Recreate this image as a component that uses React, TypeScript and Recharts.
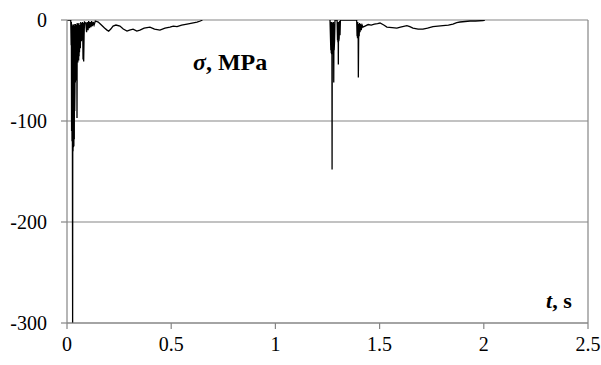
import React from 'react';
import { LineChart, Line, XAxis, YAxis, CartesianGrid, ReferenceLine } from 'recharts';

// First impact (t ≈ 0) – time in s, stress in MPa
const impact1Time = [0, 0.018, 0.02, 0.021, 0.022, 0.023, 0.024, 0.025, 0.026, 0.027, 0.028, 0.029, 0.03, 0.031, 0.032, 0.033, 0.034, 0.035, 0.036, 0.037, 0.038, 0.039, 0.04, 0.041, 0.042, 0.043, 0.044, 0.045, 0.046, 0.047, 0.048, 0.049, 0.05, 0.051, 0.052, 0.053, 0.054, 0.055, 0.056, 0.057, 0.058, 0.059, 0.06, 0.062, 0.064, 0.066, 0.069, 0.071, 0.073, 0.075, 0.077, 0.079, 0.08, 0.082, 0.084, 0.09, 0.094, 0.097, 0.101, 0.104, 0.108, 0.111, 0.115, 0.118, 0.122, 0.126, 0.13, 0.136];
const impact1Stress = [0, 0, -25, -2, -110, -4, -120, -6, -128, -300, -8, -130, -5, -126, -6, -125, -4, -118, -10, -90, -70, -6, -62, -4, -55, -8, -58, -5, -60, -6, -97, -3, -40, -5, -42, -4, -38, -6, -40, -3, -36, -5, -32, -5, -28, -2, -21, -3, -20, -2, -39, -3, -41, -15, -2, -3, -12, -2, -10, -1, -8, -2, -7, -1, -6, -2, -5, -1];

// Decay after first impact
const decay1Time = [0.15, 0.165, 0.18, 0.192, 0.2, 0.21, 0.221, 0.235, 0.254, 0.27, 0.288, 0.3, 0.317, 0.335, 0.35, 0.37, 0.398, 0.42, 0.446, 0.47, 0.494, 0.51, 0.528, 0.55, 0.576, 0.6, 0.624, 0.64, 0.65];
const decay1Stress = [-2, -5, -8, -10, -11, -9, -6, -5, -6, -9, -11, -10, -9, -11, -10, -8, -7, -9, -10, -8, -7, -6, -6.5, -5, -4, -3, -2, -1, 0];

// Second impact (t ≈ 1.27)
const impact2Time = [1.262, 1.266, 1.267, 1.268, 1.269, 1.27, 1.271, 1.272, 1.273, 1.274, 1.275, 1.276, 1.277, 1.278, 1.279, 1.28, 1.281, 1.282, 1.284, 1.286, 1.296, 1.298, 1.299, 1.3, 1.301, 1.302, 1.303, 1.304, 1.306, 1.308, 1.31, 1.312, 1.39, 1.392, 1.393, 1.394, 1.395, 1.396, 1.397, 1.398, 1.4, 1.402, 1.404, 1.406, 1.409, 1.412, 1.416, 1.42];
const impact2Stress = [0, -30, -2, -33, -3, -34, -2, -148, -5, -34, -3, -33, -4, -32, -2, -62, -4, -30, -20, 0, 0, -20, -2, -22, -3, -44, -2, -21, -18, -1, -15, 0, 0, -16, -3, -18, -2, -17, -4, -57, -4, -16, -3, -12, -4, -10, -5, -7];

// Decay after second impact
const decay2Time = [1.43, 1.445, 1.46, 1.475, 1.49, 1.502, 1.52, 1.535, 1.56, 1.583, 1.6, 1.631, 1.645, 1.66, 1.685, 1.708, 1.73, 1.756, 1.78, 1.804, 1.83, 1.852, 1.87, 1.886, 1.91, 1.934, 1.96, 1.996, 2.005];
const decay2Stress = [-6, -4.5, -5, -4, -3.5, -3, -5, -7, -7.5, -8, -7, -5.5, -6.5, -8, -9, -9, -8, -6.5, -6, -5.5, -5, -4, -2.5, -2, -1.5, -1, -1, -0.5, 0];

const xTicks = [0, 0.5, 1, 1.5, 2, 2.5];
const yTicks = [0, -100, -200, -300];

type Pt = { t: number; s: number | null };
const zipPts = (ts: number[], vs: number[]): Pt[] => ts.map((t, i) => ({ t, s: vs[i] }));

const data: Pt[] = [
  ...zipPts(impact1Time, impact1Stress),
  ...zipPts(decay1Time, decay1Stress),
  { t: 0.9, s: null },
  ...zipPts(impact2Time, impact2Stress),
  ...zipPts(decay2Time, decay2Stress),
];

const FONT = 'Liberation Serif';
const GRAY = '#858585';

const renderXTick = (props: any) => {
  const { x, y, payload } = props;
  return (
    <text x={x} y={y} dy="0.71em" textAnchor="middle" fill="#000" fontFamily={FONT} fontSize={20}>
      {String(payload.value)}
    </text>
  );
};

const renderYTick = (props: any) => {
  const { x, y, payload } = props;
  return (
    <text x={x} y={y} dy="0.355em" textAnchor="end" fill="#000" fontFamily={FONT} fontSize={20}>
      {String(payload.value)}
    </text>
  );
};

export default function App() {
  return (
    <div style={{ position: 'absolute', left: 0, top: 0, width: 601, height: 365, background: '#fff', fontFamily: FONT }}>
      <LineChart width={601} height={365} data={data} margin={{ top: 20, right: 13, left: 0, bottom: 0 }}>
        <CartesianGrid vertical={false} stroke={GRAY} strokeWidth={1.2} />
        <XAxis
          dataKey="t"
          type="number"
          domain={[0, 2.5]}
          ticks={xTicks}
          height={42}
          tickSize={6}
          tickMargin={8}
          axisLine={{ stroke: GRAY, strokeWidth: 1.2 }}
          tickLine={{ stroke: GRAY, strokeWidth: 1.2 }}
          tick={renderXTick}
          interval={0}
        />
        <YAxis
          type="number"
          domain={[-300, 0]}
          ticks={yTicks}
          width={67}
          tickSize={6}
          tickMargin={14}
          allowDataOverflow
          axisLine={{ stroke: GRAY, strokeWidth: 1.2 }}
          tickLine={{ stroke: GRAY, strokeWidth: 1.2 }}
          tick={renderYTick}
          interval={0}
        />
        <ReferenceLine x={2.5} stroke={GRAY} strokeWidth={1.2} />
        <Line
          type="linear"
          dataKey="s"
          stroke="#000"
          strokeWidth={1.3}
          dot={false}
          isAnimationActive={false}
          connectNulls={false}
        />
      </LineChart>
      <div style={{ position: 'absolute', left: 193, top: 49, fontSize: 24, fontWeight: 'bold', fontFamily: FONT, lineHeight: '26px', whiteSpace: 'nowrap' }}>
        <i>σ</i>, MPa
      </div>
      <div style={{ position: 'absolute', left: 546, top: 289, fontSize: 22, fontWeight: 'bold', fontFamily: FONT, lineHeight: '24px', whiteSpace: 'nowrap' }}>
        <i>t</i>, s
      </div>
    </div>
  );
}
